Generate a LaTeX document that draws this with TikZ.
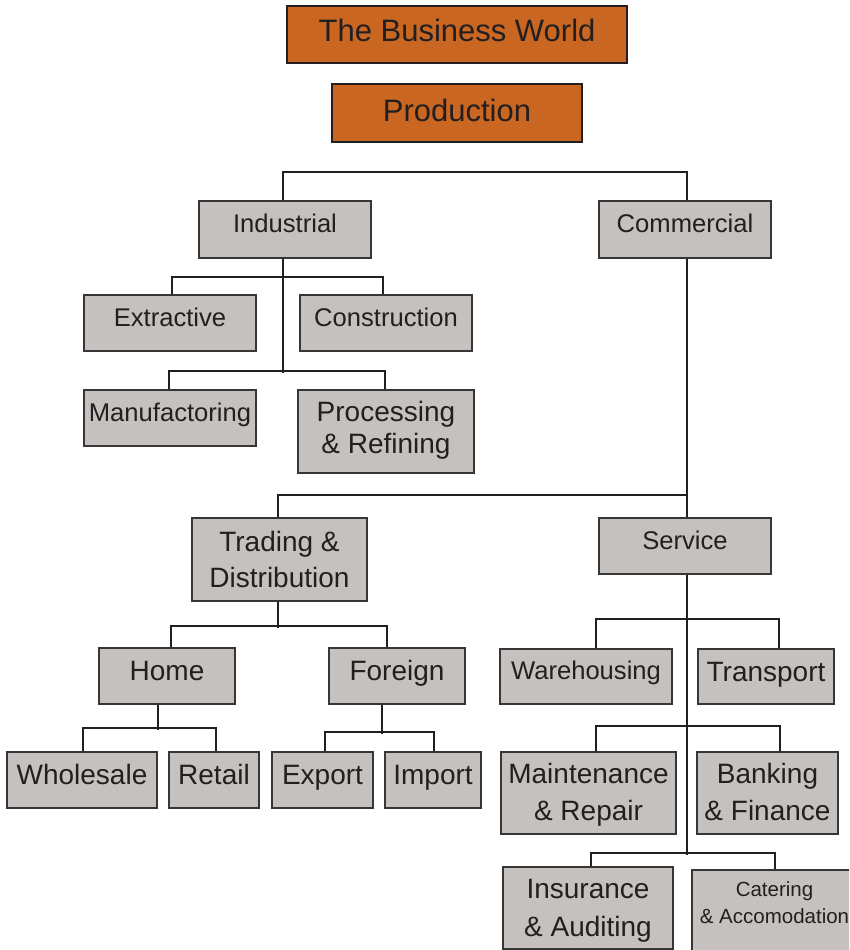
\documentclass[tikz,border=0pt]{standalone}
\usepackage{fontspec}
\setmainfont{Liberation Sans}
\definecolor{boxgray}{RGB}{197,193,190}
\definecolor{boxline}{RGB}{55,53,53}
\definecolor{ink}{RGB}{35,31,32}
\definecolor{rust}{RGB}{201,103,34}
\tikzset{
  box/.style={draw=boxline, line width=1.4pt, fill=boxgray, inner sep=0pt, text=ink},
  topbox/.style={draw=ink, line width=2.4pt, fill=rust, inner sep=0pt, text=ink,
    font=\fontsize{31}{36}\selectfont, text height=18pt, text depth=3pt},
  fa/.style={font=\fontsize{25.6}{30}\selectfont, text height=12pt, text depth=5.6pt},
  fb/.style={font=\fontsize{28}{33}\selectfont, text height=14pt, text depth=5pt},
  conn/.style={draw=ink, line width=2.2pt},
}
\begin{document}
\begin{tikzpicture}[x=1pt,y=-1pt]
\useasboundingbox (0,0) rectangle (849,950);
\clip (0,0) rectangle (849,950);

% headings
\node[topbox, minimum width=340, minimum height=57] (bw) at (457,34.5) {The Business World};
\node[topbox, minimum width=250, minimum height=58, text height=18pt, text depth=2pt] (prod) at (457,113) {Production};

% industrial branch
\node[box, fa, minimum width=172, minimum height=57] (ind) at (285,229.5) {Industrial};
\node[box, fa, minimum width=172, minimum height=57] (com) at (685,229.5) {Commercial};
\node[box, fa, minimum width=172, minimum height=56] (ext) at (170,323) {Extractive};
\node[box, fa, minimum width=172, minimum height=56] (con) at (386,323) {Construction};
\node[box, fa, minimum width=172, minimum height=56] (man) at (170,418) {Manufactoring};
\node[box, font=\fontsize{28}{32.3}\selectfont, align=center, text height=44pt, text depth=0.4pt,
      minimum width=176, minimum height=83] (pro) at (386,431.5) {Processing\\\& Refining};

% trading branch
\node[box, font=\fontsize{28}{36.3}\selectfont, align=center, text height=56pt, text depth=0.4pt,
      minimum width=175, minimum height=83] (trd) at (279.5,559.5) {Trading \&\\Distribution};
\node[box, fb, minimum width=136, minimum height=56] (home) at (167,676) {Home};
\node[box, fb, minimum width=136, minimum height=56] (frn) at (397,676) {Foreign};
\node[box, fb, minimum width=150, minimum height=56, text depth=6pt] (whl) at (82,780) {Wholesale};
\node[box, fb, minimum width=90, minimum height=56, text depth=6pt] (ret) at (214,780) {Retail};
\node[box, fb, minimum width=101, minimum height=56, text depth=6pt] (exp) at (322.5,780) {Export};
\node[box, fb, minimum width=96, minimum height=56, text depth=6pt] (imp) at (433,780) {Import};

% service branch
\node[box, fa, minimum width=172, minimum height=56] (srv) at (685,546) {Service};
\node[box, fa, minimum width=172, minimum height=55, text depth=7pt] (wh) at (586,676.5) {Warehousing};
\node[box, fb, minimum width=136, minimum height=55] (tr) at (766,676.5) {Transport};
\node[box, font=\fontsize{28}{36.7}\selectfont, align=center, text height=54.5pt, text depth=0.5pt,
      minimum width=175, minimum height=82] (mnt) at (588.5,793) {Maintenance\\\& Repair};
\node[box, font=\fontsize{28}{36.7}\selectfont, align=center, text height=54.5pt, text depth=0.5pt,
      minimum width=141, minimum height=82] (bnk) at (767.5,793) {Banking\\\& Finance};
\node[box, font=\fontsize{28}{37.7}\selectfont, align=center, text height=56.5pt, text depth=0.5pt,
      minimum width=170, minimum height=82] (ins) at (588,908) {Insurance\\\& Auditing};
\node[box, font=\fontsize{20.5}{26.7}\selectfont, align=center, text height=20pt, text depth=18.4pt,
      minimum width=165, minimum height=105] (cat) at (774.5,922.5) {Catering\\\& Accomodation};

% connectors
\draw[conn] ([xshift=-2]ind.north) -- ++(0,-28) -| ([xshift=2]com.north);
\draw[conn] ([xshift=-2]ind.south) -- ++(0,114);
\draw[conn] ([xshift=2]ext.north) -- ++(0,-17) -| ([xshift=-3]con.north);
\draw[conn] ([xshift=-1]man.north) -- ++(0,-18) -| ([xshift=-1]pro.north);

\draw[conn] ([xshift=2]com.south) -- ([xshift=2]srv.north);
\draw[conn] ([xshift=-1.5]trd.north) -- ++(0,-22) -| ([xshift=2]srv.north);

\draw[conn] ([xshift=-1.5]trd.south) -- ++(0,26);
\draw[conn] ([xshift=4]home.north) -- ++(0,-21) -| ([xshift=-10]frn.north);
\draw[conn] ([xshift=-9]home.south) -- ++(0,25);
\draw[conn] ([xshift=1]whl.north) -- ++(0,-23) -| ([xshift=2]ret.north);
\draw[conn] ([xshift=-15]frn.south) -- ++(0,29);
\draw[conn] ([xshift=2.5]exp.north) -- ++(0,-19) -| ([xshift=1]imp.north);

\draw[conn] ([xshift=2]srv.south) -- ++(0,280);
\draw[conn] ([xshift=10]wh.north) -- ++(0,-29) -| ([xshift=13]tr.north);
\draw[conn] ([xshift=7.5]mnt.north) -- ++(0,-25) -| ([xshift=12.5]bnk.north);
\draw[conn] ([xshift=3]ins.north) -- ++(0,-13) -| ([xshift=0.5]cat.north);
\end{tikzpicture}
\end{document}
